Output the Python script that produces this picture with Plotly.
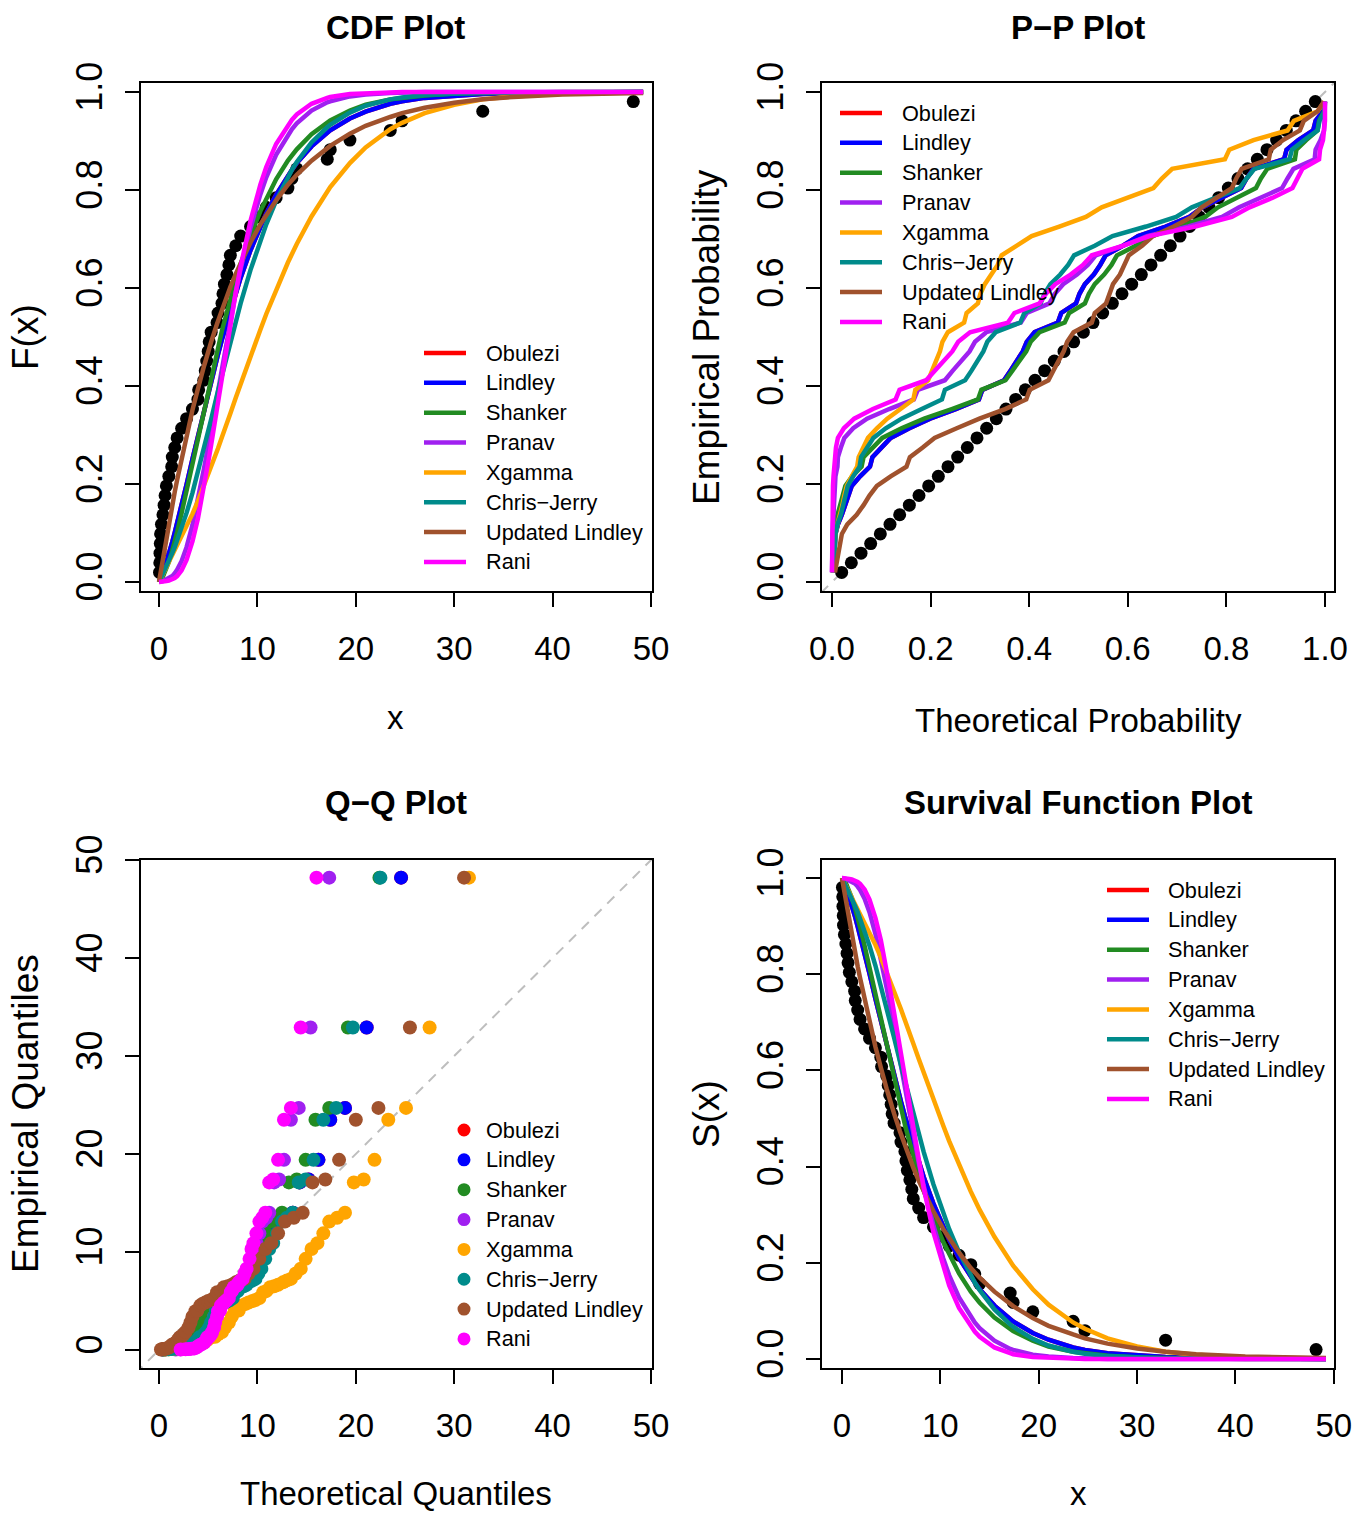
import plotly.graph_objects as go

W, H = 1367, 1514
FONT = "Liberation Sans, Arial, sans-serif"

# Observed sample, sorted
X_OBS = [0.05, 0.08, 0.10, 0.13, 0.16, 0.25, 0.40, 0.52, 0.62, 0.75,
         1.00, 1.29, 1.35, 1.60, 1.84, 2.30, 2.80, 3.40, 3.95, 4.03,
         4.55, 4.70, 4.85, 5.00, 5.10, 5.30, 5.90, 6.00, 6.40, 6.50,
         6.65, 6.90, 7.10, 7.25, 7.80, 8.30, 9.30, 10.30, 10.90, 11.90,
         13.10, 13.50, 14.00, 17.10, 17.40, 19.40, 23.50, 24.70, 32.90, 48.20]
# Extra abscissae used only to draw the fitted curves
X_EXTRA = [0, 15.5, 21, 27, 30, 36, 41, 49.2]
X_CURVE = sorted(X_OBS + X_EXTRA)

MODELS = ["Obulezi", "Lindley", "Shanker", "Pranav", "Xgamma", "Chris−Jerry", "Updated Lindley", "Rani"]
COLORS = ["#FF0000", "#0000FF", "#228B22", "#A020F0", "#FFA500", "#008B8B", "#A0522D", "#FF00FF"]

# Fitted CDF values at X_CURVE
CDF_LINDLEY = [0.000, 0.002, 0.004, 0.004, 0.006, 0.007, 0.012, 0.020, 0.026, 0.032,
               0.040, 0.057, 0.077, 0.082, 0.101, 0.119, 0.157, 0.199, 0.251, 0.298,
               0.305, 0.349, 0.362, 0.374, 0.387, 0.395, 0.411, 0.458, 0.465, 0.495,
               0.502, 0.513, 0.531, 0.544, 0.555, 0.590, 0.621, 0.677, 0.725, 0.752,
               0.790, 0.830, 0.841, 0.855, 0.889, 0.917, 0.922, 0.946, 0.960, 0.976,
               0.981, 0.988, 0.993, 0.996, 0.998, 0.999, 1.000, 1.000]
CDF_OBULEZI = list(CDF_LINDLEY)
CDF_SHANKER = [0.000, 0.001, 0.001, 0.002, 0.003, 0.003, 0.006, 0.011, 0.016, 0.020,
               0.027, 0.041, 0.060, 0.064, 0.083, 0.102, 0.141, 0.187, 0.243, 0.296,
               0.303, 0.352, 0.366, 0.380, 0.394, 0.403, 0.421, 0.472, 0.481, 0.513,
               0.521, 0.533, 0.552, 0.567, 0.578, 0.616, 0.649, 0.707, 0.757, 0.783,
               0.822, 0.860, 0.870, 0.883, 0.914, 0.939, 0.942, 0.962, 0.974, 0.985,
               0.988, 0.993, 0.997, 0.998, 0.999, 1.000, 1.000, 1.000]
CDF_PRANAV = [0.000, 0.000, 0.001, 0.001, 0.001, 0.001, 0.002, 0.002, 0.003, 0.004,
              0.005, 0.007, 0.011, 0.012, 0.018, 0.025, 0.043, 0.071, 0.116, 0.166,
              0.174, 0.229, 0.245, 0.262, 0.279, 0.290, 0.313, 0.383, 0.395, 0.441,
              0.452, 0.469, 0.497, 0.519, 0.535, 0.591, 0.639, 0.723, 0.791, 0.826,
              0.872, 0.913, 0.924, 0.936, 0.962, 0.979, 0.981, 0.991, 0.995, 0.998,
              0.999, 1.000, 1.000, 1.000, 1.000, 1.000, 1.000, 1.000]
CDF_XGAMMA = [0.000, 0.002, 0.003, 0.004, 0.006, 0.007, 0.011, 0.017, 0.021, 0.025,
              0.030, 0.040, 0.051, 0.054, 0.063, 0.073, 0.091, 0.112, 0.139, 0.165,
              0.169, 0.195, 0.203, 0.211, 0.219, 0.224, 0.235, 0.268, 0.273, 0.296,
              0.301, 0.310, 0.324, 0.336, 0.344, 0.376, 0.405, 0.461, 0.515, 0.547,
              0.597, 0.652, 0.669, 0.690, 0.746, 0.797, 0.806, 0.855, 0.887, 0.924,
              0.937, 0.957, 0.974, 0.985, 0.991, 0.997, 0.999, 0.999]
CDF_CHRIS = [0.000, 0.002, 0.004, 0.005, 0.006, 0.007, 0.011, 0.018, 0.023, 0.027,
             0.032, 0.043, 0.056, 0.059, 0.071, 0.084, 0.109, 0.141, 0.182, 0.223,
             0.229, 0.270, 0.283, 0.295, 0.307, 0.315, 0.332, 0.382, 0.390, 0.423,
             0.431, 0.443, 0.463, 0.479, 0.491, 0.533, 0.569, 0.637, 0.698, 0.730,
             0.778, 0.827, 0.841, 0.857, 0.897, 0.928, 0.933, 0.958, 0.972, 0.985,
             0.989, 0.994, 0.997, 0.999, 0.999, 1.000, 1.000, 1.000]
CDF_UPDATED = [0.000, 0.006, 0.010, 0.013, 0.016, 0.020, 0.031, 0.050, 0.064, 0.076,
               0.091, 0.119, 0.151, 0.158, 0.184, 0.208, 0.253, 0.299, 0.351, 0.394,
               0.401, 0.439, 0.449, 0.460, 0.470, 0.477, 0.490, 0.527, 0.533, 0.556,
               0.562, 0.570, 0.584, 0.594, 0.602, 0.629, 0.651, 0.693, 0.730, 0.750,
               0.779, 0.811, 0.820, 0.831, 0.860, 0.886, 0.890, 0.915, 0.931, 0.949,
               0.957, 0.968, 0.978, 0.985, 0.990, 0.995, 0.998, 0.998]
CDF_RANI = [0.000, 0.000, 0.000, 0.000, 0.000, 0.001, 0.001, 0.001, 0.002, 0.002,
            0.002, 0.003, 0.005, 0.005, 0.008, 0.012, 0.024, 0.045, 0.083, 0.129,
            0.137, 0.191, 0.208, 0.226, 0.244, 0.256, 0.280, 0.357, 0.370, 0.421,
            0.434, 0.453, 0.484, 0.509, 0.527, 0.591, 0.644, 0.737, 0.811, 0.847,
            0.894, 0.934, 0.943, 0.954, 0.976, 0.988, 0.990, 0.996, 0.998, 0.999,
            1.000, 1.000, 1.000, 1.000, 1.000, 1.000, 1.000, 1.000]

# Theoretical quantiles at the plotting positions of X_OBS
Q_LINDLEY = [0.4, 0.7, 1.0, 1.3, 1.6, 1.8, 2.1, 2.3, 2.5, 2.8, 3.0, 3.2, 3.4, 3.7, 3.9, 4.1, 4.4,
             4.6, 4.8, 5.1, 5.3, 5.6, 5.8, 6.1, 6.3, 6.6, 6.9, 7.2, 7.5, 7.8, 8.1, 8.4, 8.8, 9.1,
             9.5, 9.9, 10.3, 10.7, 11.2, 11.7, 12.3, 12.9, 13.6, 14.3, 15.2, 16.2, 17.4, 18.9,
             21.1, 24.6]
Q_OBULEZI = list(Q_LINDLEY)
Q_SHANKER = [0.6, 1.0, 1.3, 1.5, 1.8, 2.0, 2.3, 2.5, 2.7, 2.9, 3.1, 3.3, 3.5, 3.7, 3.9, 4.1, 4.3,
             4.6, 4.8, 5.0, 5.2, 5.4, 5.6, 5.9, 6.1, 6.4, 6.6, 6.9, 7.1, 7.4, 7.7, 8.0, 8.3, 8.6,
             8.9, 9.3, 9.7, 10.0, 10.5, 10.9, 11.4, 12.0, 12.5, 13.2, 14.0, 14.9, 15.9, 17.3,
             19.2, 22.4]
Q_PRANAV = [1.7, 2.2, 2.6, 2.9, 3.2, 3.4, 3.6, 3.9, 4.1, 4.2, 4.4, 4.6, 4.8, 5.0, 5.1, 5.3, 5.5,
            5.6, 5.8, 6.0, 6.1, 6.3, 6.5, 6.7, 6.8, 7.0, 7.2, 7.4, 7.6, 7.8, 8.0, 8.2, 8.4, 8.6,
            8.8, 9.1, 9.3, 9.6, 9.9, 10.2, 10.5, 10.9, 11.2, 11.7, 12.2, 12.7, 13.4, 14.2,
            15.4, 17.3]
Q_XGAMMA = [0.5, 1.0, 1.5, 2.0, 2.5, 2.9, 3.4, 3.8, 4.2, 4.6, 4.9, 5.3, 5.7, 6.0, 6.4, 6.7, 7.1,
            7.4, 7.7, 8.1, 8.4, 8.8, 9.1, 9.5, 9.8, 10.2, 10.6, 10.9, 11.3, 11.7, 12.1, 12.6,
            13.0, 13.4, 13.9, 14.4, 14.9, 15.5, 16.1, 16.7, 17.3, 18.1, 18.9, 19.8, 20.8, 21.9,
            23.3, 25.1, 27.5, 31.5]
Q_CHRIS = [0.4, 0.9, 1.3, 1.7, 2.1, 2.4, 2.7, 3.0, 3.3, 3.6, 3.9, 4.1, 4.4, 4.6, 4.8, 5.1, 5.3,
           5.6, 5.8, 6.0, 6.3, 6.5, 6.7, 7.0, 7.2, 7.5, 7.8, 8.0, 8.3, 8.6, 8.9, 9.1, 9.5, 9.8,
           10.1, 10.4, 10.8, 11.2, 11.6, 12.0, 12.5, 13.0, 13.6, 14.2, 14.9, 15.7, 16.7, 18.0,
           19.7, 22.5]
Q_UPDATED = [0.2, 0.3, 0.5, 0.6, 0.8, 1.0, 1.2, 1.3, 1.5, 1.7, 1.9, 2.1, 2.3, 2.5, 2.7, 3.0, 3.2,
             3.4, 3.7, 3.9, 4.2, 4.4, 4.7, 5.0, 5.3, 5.6, 5.9, 6.3, 6.6, 7.0, 7.4, 7.8, 8.2, 8.7,
             9.1, 9.6, 10.2, 10.8, 11.4, 12.1, 12.8, 13.7, 14.6, 15.6, 16.9, 18.3, 20.0, 22.3,
             25.5, 31.0]
Q_RANI = [2.2, 2.7, 3.0, 3.3, 3.6, 3.8, 4.0, 4.2, 4.4, 4.6, 4.8, 4.9, 5.1, 5.3, 5.4, 5.6, 5.7,
          5.9, 6.0, 6.2, 6.3, 6.5, 6.6, 6.8, 6.9, 7.1, 7.3, 7.4, 7.6, 7.8, 8.0, 8.1, 8.3, 8.5,
          8.7, 8.9, 9.2, 9.4, 9.6, 9.9, 10.2, 10.5, 10.8, 11.2, 11.6, 12.1, 12.7, 13.4, 14.4,
          16.0]

X_TICKS = [0, 10, 20, 30, 40, 50]
P_TICKS = [0, 0.2, 0.4, 0.6, 0.8, 1.0]
P_TICKTEXT = ["0.0", "0.2", "0.4", "0.6", "0.8", "1.0"]
DIAG_PP = [-0.1, 1.1]
DIAG_QQ = [-5, 55]

CDF = dict(zip(MODELS, [CDF_OBULEZI, CDF_LINDLEY, CDF_SHANKER, CDF_PRANAV,
                        CDF_XGAMMA, CDF_CHRIS, CDF_UPDATED, CDF_RANI]))
QUANT = dict(zip(MODELS, [Q_OBULEZI, Q_LINDLEY, Q_SHANKER, Q_PRANAV,
                          Q_XGAMMA, Q_CHRIS, Q_UPDATED, Q_RANI]))

n_obs = len(X_OBS)
p_emp = [(i + 1) / (n_obs + 1) for i in range(n_obs)]
obs_set = set(X_OBS)

LW = 4.5
DOT = 13
fig = go.Figure()

# CDF panel
fig.add_trace(go.Scatter(x=X_OBS, y=p_emp, mode="markers",
                         marker=dict(color="black", size=DOT), xaxis="x", yaxis="y"))
for m, c in zip(MODELS, COLORS):
    fig.add_trace(go.Scatter(x=X_CURVE, y=CDF[m], mode="lines", line=dict(color=c, width=LW),
                             xaxis="x", yaxis="y"))

# P-P panel
fig.add_trace(go.Scatter(x=DIAG_PP, y=DIAG_PP, mode="lines",
                         line=dict(color="#BEBEBE", width=2, dash="10px,8px"), xaxis="x2", yaxis="y2"))
fig.add_trace(go.Scatter(x=p_emp, y=p_emp, mode="markers",
                         marker=dict(color="black", size=DOT), xaxis="x2", yaxis="y2"))
for m, c in zip(MODELS, COLORS):
    f_at_obs = [f for xv, f in zip(X_CURVE, CDF[m]) if xv in obs_set]
    fig.add_trace(go.Scatter(x=f_at_obs, y=p_emp, mode="lines", line=dict(color=c, width=LW),
                             xaxis="x2", yaxis="y2"))

# Q-Q panel
fig.add_trace(go.Scatter(x=DIAG_QQ, y=DIAG_QQ, mode="lines",
                         line=dict(color="#BEBEBE", width=2, dash="10px,8px"), xaxis="x3", yaxis="y3"))
for m, c in zip(MODELS, COLORS):
    fig.add_trace(go.Scatter(x=QUANT[m], y=X_OBS, mode="markers", marker=dict(color=c, size=14),
                             xaxis="x3", yaxis="y3"))

# Survival panel
fig.add_trace(go.Scatter(x=X_OBS, y=[1 - p for p in p_emp], mode="markers",
                         marker=dict(color="black", size=DOT), xaxis="x4", yaxis="y4"))
for m, c in zip(MODELS, COLORS):
    fig.add_trace(go.Scatter(x=X_CURVE, y=[1 - f for f in CDF[m]], mode="lines",
                             line=dict(color=c, width=LW), xaxis="x4", yaxis="y4"))

fig.update_traces(showlegend=False)

base = dict(showline=True, mirror=True, linecolor="black", linewidth=2, ticks="outside",
            ticklen=14, tickwidth=2, tickcolor="black", showgrid=False, zeroline=False,
            automargin=False)
xs = dict(ticklabelstandoff=13, tickfont=dict(family=FONT, size=33, color="black"))
ys = dict(tickangle=-90, ticklabelstandoff=9, tickfont=dict(family=FONT, size=36, color="black"))


def dom_x(a, b):
    return [a / W, b / W]


def dom_y(top, bot):
    return [1 - bot / H, 1 - top / H]


fig.update_layout(
    width=W, height=H, margin=dict(l=0, r=0, t=0, b=0, autoexpand=False),
    paper_bgcolor="white", plot_bgcolor="white",
    xaxis=dict(base, **xs, domain=dom_x(141, 652), range=[-1.83, 50.1], tickvals=X_TICKS, anchor="y"),
    yaxis=dict(base, **ys, domain=dom_y(83, 591), range=[-0.0184, 1.0184],
               tickvals=P_TICKS, ticktext=P_TICKTEXT, anchor="x"),
    xaxis2=dict(base, **xs, domain=dom_x(822, 1334), range=[-0.0203, 1.0183],
                tickvals=P_TICKS, ticktext=P_TICKTEXT, anchor="y2"),
    yaxis2=dict(base, **ys, domain=dom_y(83, 591), range=[-0.0184, 1.0184],
                tickvals=P_TICKS, ticktext=P_TICKTEXT, anchor="x2"),
    xaxis3=dict(base, **xs, domain=dom_x(141, 652), range=[-1.83, 50.1], tickvals=X_TICKS, anchor="y3"),
    yaxis3=dict(base, **ys, domain=dom_y(860, 1368), range=[-1.84, 50.0], tickvals=X_TICKS, anchor="x3"),
    xaxis4=dict(base, **xs, domain=dom_x(822, 1334), range=[-2.03, 50.02], tickvals=X_TICKS, anchor="y4"),
    yaxis4=dict(base, **ys, domain=dom_y(860, 1368), range=[-0.0187, 1.0374],
                tickvals=P_TICKS, ticktext=P_TICKTEXT, anchor="x4"),
)

ann = []


def text(s, x, y, size=33, angle=0, anchor="center", vanchor="middle"):
    ann.append(dict(text=s, x=x / W, y=1 - y / H, xref="paper", yref="paper", showarrow=False,
                    xanchor=anchor, yanchor=vanchor, textangle=angle, borderpad=0,
                    font=dict(family=FONT, size=size, color="black")))


text("<b>CDF Plot</b>", 396, 27, 33)
text("<b>P−P Plot</b>", 1078, 27, 33)
text("<b>Q−Q Plot</b>", 396, 803, 33)
text("<b>Survival Function Plot</b>", 1078, 803, 33)
text("x", 396, 717)
text("F(x)", 25, 337, 37, angle=-90)
text("Theoretical Probability", 1078, 720)
text("Empirical Probability", 706, 337, 37, angle=-90)
text("Theoretical Quantiles", 396, 1513, vanchor="bottom")
text("Empirical Quantiles", 25, 1114, 37, angle=-90)
text("x", 1078, 1513, vanchor="bottom")
text("S(x)", 706, 1114, 37, angle=-90)

# Legends: line keys for the curve panels, dot keys for the Q-Q panel
shapes = []
LEGENDS = [(424, 466, 485, 353, "line"), (840, 882, 901, 113, "line"),
           (464, 464, 485, 1130, "dot"), (1107, 1149, 1167, 890, "line")]
for (lx0, lx1, tx, ry, kind) in LEGENDS:
    for j, (m, c) in enumerate(zip(MODELS, COLORS)):
        yy = ry + j * 29.85
        if kind == "line":
            shapes.append(dict(type="line", xref="paper", yref="paper", x0=lx0 / W, x1=lx1 / W,
                               y0=1 - yy / H, y1=1 - yy / H, line=dict(color=c, width=LW), layer="above"))
        else:
            r = 6.5
            shapes.append(dict(type="circle", xref="paper", yref="paper",
                               x0=(lx0 - r) / W, x1=(lx0 + r) / W,
                               y0=1 - (yy + r) / H, y1=1 - (yy - r) / H,
                               fillcolor=c, line=dict(width=0), layer="above"))
        text(m, tx, yy, 21.7, anchor="left")

fig.update_layout(annotations=ann, shapes=shapes)
fig.write_html("out.html",
               post_script="document.body.style.margin='0';document.body.style.overflow='hidden';")
